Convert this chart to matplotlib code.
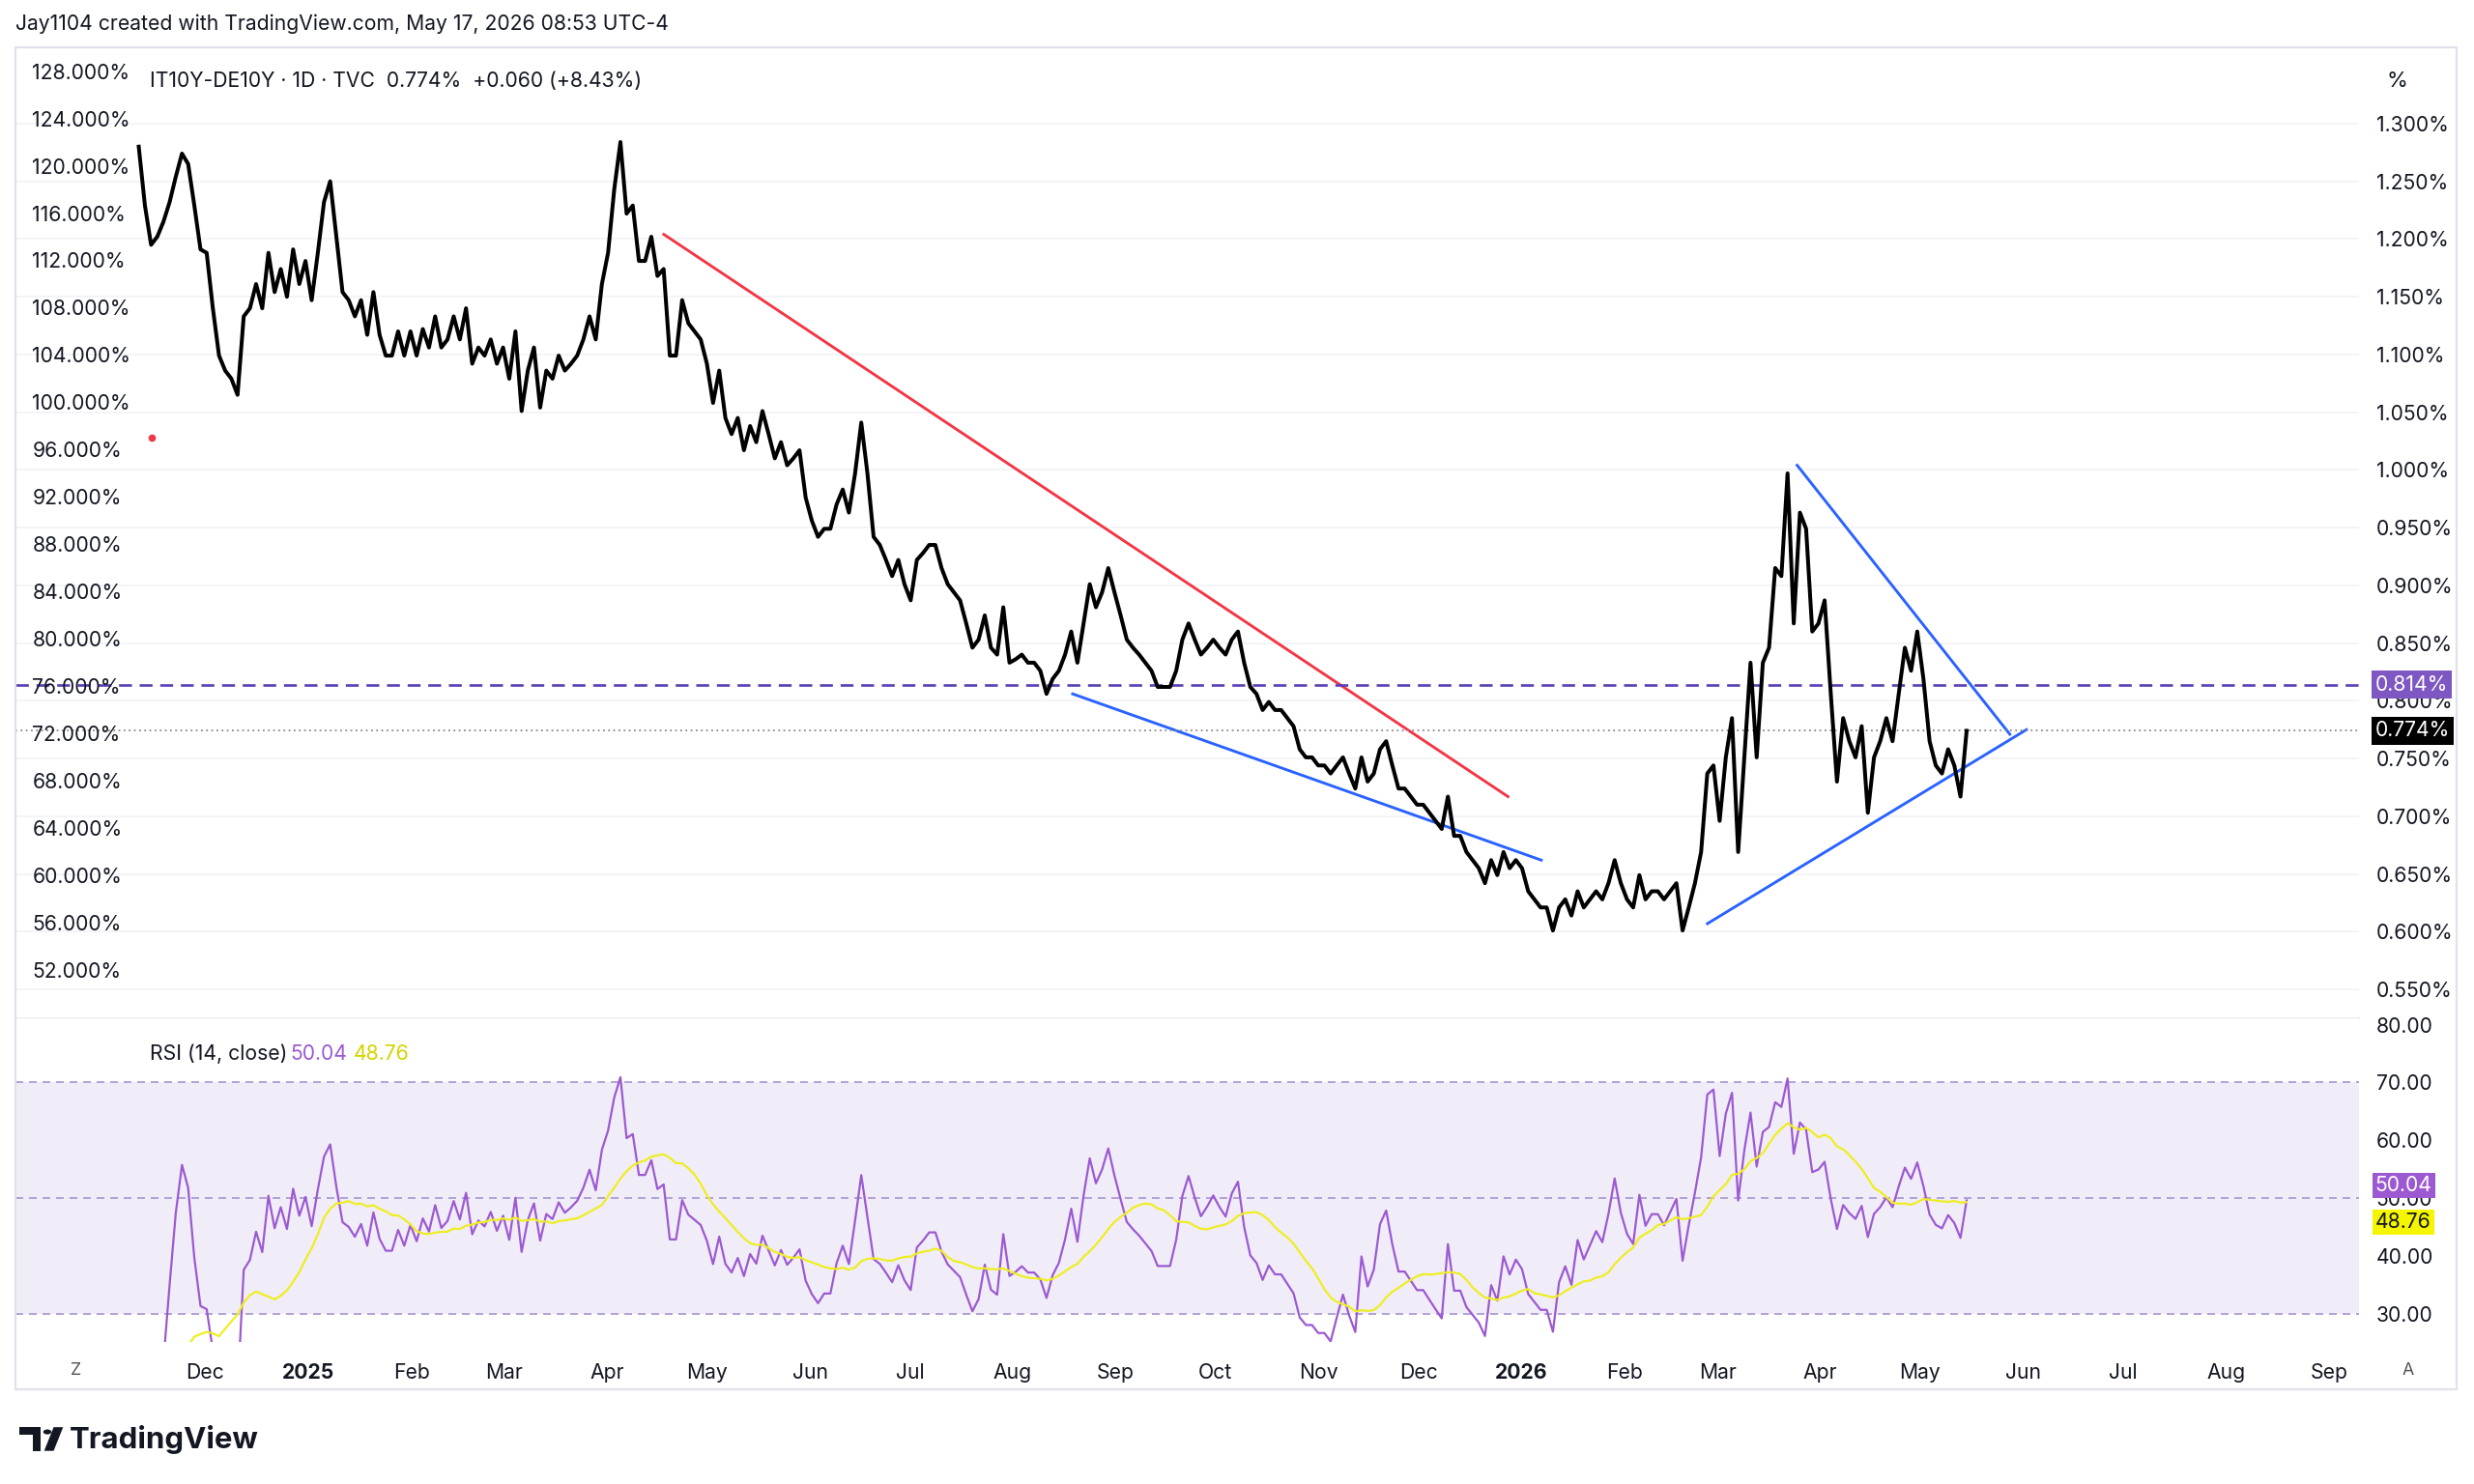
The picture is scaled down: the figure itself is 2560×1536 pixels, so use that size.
import numpy as np, pandas as pd
import matplotlib
matplotlib.use("Agg")
import matplotlib.pyplot as plt
from matplotlib.patches import Rectangle, Circle, Polygon

plt.rcParams['font.family'] = ['Inter', 'DejaVu Sans']

start_date = "2024-11-11"
end_date = "2026-05-15"
spread = [1.280,1.229,1.195,1.202,1.215,1.232,1.254,1.274,1.265,1.229,1.191,1.188,1.140,1.099,1.086,1.079,1.065,1.133,1.140,1.161,
1.140,1.188,1.154,1.174,1.150,1.191,1.161,1.181,1.147,1.188,1.232,1.250,1.202,1.154,1.147,1.133,1.147,1.117,1.154,1.117,
1.099,1.099,1.120,1.099,1.120,1.099,1.122,1.106,1.133,1.106,1.113,1.133,1.113,1.140,1.092,1.106,1.099,1.113,1.092,1.106,
1.079,1.120,1.051,1.086,1.106,1.054,1.086,1.079,1.099,1.086,1.092,1.099,1.113,1.133,1.113,1.161,1.188,1.243,1.284,1.222,
1.229,1.181,1.181,1.202,1.168,1.174,1.099,1.099,1.147,1.127,1.120,1.113,1.092,1.058,1.086,1.045,1.031,1.045,1.017,1.038,
1.024,1.051,1.031,1.010,1.024,1.004,1.010,1.017,0.976,0.956,0.942,0.949,0.949,0.970,0.983,0.963,0.997,1.041,0.997,0.942,
0.935,0.922,0.908,0.922,0.901,0.887,0.922,0.928,0.935,0.935,0.915,0.901,0.894,0.887,0.867,0.846,0.853,0.874,0.846,0.840,
0.881,0.833,0.836,0.840,0.833,0.833,0.826,0.806,0.819,0.826,0.840,0.860,0.833,0.867,0.901,0.881,0.894,0.915,0.894,0.874,
0.853,0.846,0.840,0.833,0.826,0.812,0.812,0.812,0.826,0.853,0.867,0.853,0.840,0.846,0.853,0.846,0.840,0.853,0.860,0.833,
0.812,0.806,0.792,0.799,0.792,0.792,0.785,0.778,0.758,0.751,0.751,0.744,0.744,0.737,0.744,0.751,0.737,0.724,0.751,0.730,
0.737,0.758,0.765,0.744,0.724,0.724,0.717,0.710,0.710,0.703,0.696,0.689,0.717,0.683,0.683,0.669,0.662,0.655,0.642,0.662,
0.649,0.669,0.655,0.662,0.655,0.635,0.628,0.621,0.621,0.601,0.621,0.628,0.614,0.635,0.621,0.628,0.635,0.628,0.642,0.662,
0.642,0.628,0.621,0.649,0.628,0.635,0.635,0.628,0.635,0.642,0.601,0.621,0.642,0.669,0.737,0.744,0.696,0.751,0.785,0.669,
0.751,0.833,0.751,0.833,0.846,0.915,0.908,0.997,0.867,0.963,0.949,0.860,0.867,0.887,0.806,0.730,0.785,0.765,0.751,0.778,
0.703,0.751,0.765,0.785,0.765,0.806,0.846,0.826,0.860,0.819,0.765,0.744,0.737,0.758,0.744,0.717,0.774]

red_line = (("2025-04-18", 1.204), ("2025-12-28", 0.717))
blue_lines = [(("2025-08-19", 0.806), ("2026-01-07", 0.662)),
              (("2026-03-25", 1.004), ("2026-05-28", 0.771)),
              (("2026-02-26", 0.607), ("2026-06-02", 0.775))]
level_dashed = 0.814
last_value = 0.774
right_ticks = [0.55,0.60,0.65,0.70,0.75,0.80,0.85,0.90,0.95,1.00,1.05,1.10,1.15,1.20,1.25,1.30]
left_ticks = list(range(52, 129, 4))
month_ticks = ["2024-12-01","2025-01-01","2025-02-01","2025-03-01","2025-04-01","2025-05-01","2025-06-01","2025-07-01",
               "2025-08-01","2025-09-01","2025-10-01","2025-11-01","2025-12-01","2026-01-01","2026-02-01","2026-03-01",
               "2026-04-01","2026-05-01","2026-06-01","2026-07-01","2026-08-01","2026-09-01"]
month_labels = ["Dec","2025","Feb","Mar","Apr","May","Jun","Jul","Aug","Sep","Oct","Nov","Dec","2026","Feb","Mar",
                "Apr","May","Jun","Jul","Aug","Sep"]
rsi_last, rsi_ma_last = "50.04", "48.76"

dates = pd.date_range(start_date, end_date, periods=len(spread))
s = pd.Series(spread, index=dates)
d = s.diff().fillna(0)
up = d.clip(lower=0).ewm(alpha=1/14, adjust=True).mean()
dn = (-d.clip(upper=0)).ewm(alpha=1/14, adjust=True).mean()
rsi = (100 - 100/(1+up/dn.replace(0, np.nan))).bfill()
rsi_ma = rsi.rolling(14, min_periods=1).mean()

W, H = 1568, 940
fig = plt.figure(figsize=(16, 9.6), dpi=160)
def fr(x0, y0, x1, y1):
    return [x0/W, 1-y1/H, (x1-x0)/W, (y1-y0)/H]

ax = fig.add_axes(fr(10, 30, 1495, 645))
ax2 = fig.add_axes(fr(10, 645, 1495, 850), sharex=ax)
xmin, xmax = pd.Timestamp("2024-10-05"), pd.Timestamp("2026-09-10")
grid_c = '#f2f3f7'

ax.set_xlim(xmin, xmax); ax.set_ylim(0.525, 1.366)
for t in right_ticks:
    ax.axhline(t, color=grid_c, lw=0.8, zorder=0)
ax.plot(s.index, s.values, color='black', lw=1.8, zorder=3)
(a, b) = red_line
ax.plot([pd.Timestamp(a[0]), pd.Timestamp(b[0])], [a[1], b[1]], color='#f23645', lw=1.3)
for (a, b) in blue_lines:
    ax.plot([pd.Timestamp(a[0]), pd.Timestamp(b[0])], [a[1], b[1]], color='#2962ff', lw=1.3)
ax.axhline(level_dashed, color='#5b3fb5', lw=1.2, ls=(0, (5, 3)))
ax.axhline(last_value, color='#888888', lw=0.8, ls=(0, (1, 2)))
ax.scatter([pd.Timestamp("2024-11-15")], [1.028], color='#f23645', s=6, zorder=4)

ax.yaxis.tick_right()
ax.set_yticks(right_ticks)
ax.set_yticklabels([f"{t:.3f}%" for t in right_ticks], fontsize=9.5, color='#131722')
ax.tick_params(axis='y', length=0, pad=8)
ax.tick_params(axis='x', length=0, labelbottom=False)
tr = matplotlib.transforms.blended_transform_factory(ax.transAxes, ax.transData)
for L in left_ticks:
    R = (L + 3.15) / 97.6
    if 0.525 < R < 1.366:
        ax.text(0.007, R, f"{L:.3f}%", transform=tr, fontsize=9.5, va='center', ha='left', color='#131722')
for v, txt, fc in [(level_dashed, "0.814%", '#7e57c2'), (last_value, "0.774%", 'black')]:
    ax.text(1.007, v, txt, transform=tr, fontsize=9.5, va='center', ha='left', color='white',
            bbox=dict(boxstyle='square,pad=0.2', fc=fc, ec='none'), clip_on=False)
ax.text(0.057, 0.975, "IT10Y-DE10Y · 1D · TVC  0.774%  +0.060 (+8.43%)", transform=ax.transAxes,
        fontsize=9.5, va='top', color='#131722')
ax.text(1.012, 0.975, "%", transform=ax.transAxes, fontsize=10, va='top', color='#131722')

ax2.set_ylim(25.1, 81.1)
ax2.add_patch(Rectangle((0, 30), 1, 40, transform=matplotlib.transforms.blended_transform_factory(ax2.transAxes, ax2.transData),
                        fc='#7e57c2', alpha=0.1, ec='none'))
ax2.axvspan(xmin, s.index[0], color='white', zorder=0.5)
for v in (70, 50, 30):
    ax2.axhline(v, color='#b2a4d6', lw=0.9, ls=(0, (4, 3)))
ax2.plot(rsi.index, rsi.values, color='#9c59d1', lw=1.0, zorder=3)
ax2.plot(rsi_ma.index, rsi_ma.values, color='#eeee22', lw=1.0, zorder=3)
ax2.yaxis.tick_right()
ax2.set_yticks([30, 40, 50, 60, 70, 80])
ax2.set_yticklabels(["30.00", "40.00", "50.00", "60.00", "70.00", "80.00"], fontsize=9.5, color='#131722')
ax2.tick_params(axis='y', length=0, pad=8)
tr2 = matplotlib.transforms.blended_transform_factory(ax2.transAxes, ax2.transData)
ax2.text(1.007, 52.2, rsi_last, transform=tr2, fontsize=9.5, va='center', ha='left', color='white',
         bbox=dict(boxstyle='square,pad=0.15', fc='#9c59d1', ec='none'), clip_on=False)
ax2.text(1.007, 45.8, rsi_ma_last, transform=tr2, fontsize=9.5, va='center', ha='left', color='#131722',
         bbox=dict(boxstyle='square,pad=0.15', fc='#f5f500', ec='none'), clip_on=False)
ax2.text(0.057, 0.92, "RSI (14, close)", transform=ax2.transAxes, fontsize=9.5, va='top', color='#131722')
ax2.text(0.117, 0.92, rsi_last, transform=ax2.transAxes, fontsize=9.5, va='top', color='#9c59d1')
ax2.text(0.144, 0.92, rsi_ma_last, transform=ax2.transAxes, fontsize=9.5, va='top', color='#d4d400')

ax2.set_xticks([pd.Timestamp(m) for m in month_ticks])
ax2.set_xticklabels(month_labels, fontsize=9.5, color='#131722')
for lbl in ax2.get_xticklabels():
    if lbl.get_text() in ("2025", "2026"):
        lbl.set_fontweight('bold')
ax2.tick_params(axis='x', length=0, pad=10)

for a_ in (ax, ax2):
    for sp in a_.spines.values():
        sp.set_visible(False)
ax.spines['bottom'].set_visible(True); ax.spines['bottom'].set_color('#e0e3eb')
fig.add_artist(Rectangle((10/W, 1-880/H), 1547/W, 850/H, transform=fig.transFigure, fill=False, ec='#e0e3eb', lw=1))
fig.text(10/W, 1-15/H, "Jay1104 created with TradingView.com, May 17, 2026 08:53 UTC-4", fontsize=9.5, va='center', color='#131722')
fig.text(48/W, 1-868/H, "Z", fontsize=8, ha='center', va='center', color='#555')
fig.text(1526/W, 1-868/H, "A", fontsize=8, ha='center', va='center', color='#555')
# logo
def P(x, y): return (x/W, 1-y/H)
fig.add_artist(Polygon([P(12,904),P(26,904),P(26,919),P(21,919),P(21,909),P(12,909)], closed=True,
                       transform=fig.transFigure, fc='#131722', ec='none'))
fig.add_artist(Circle(P(30,907), 2.6/W, transform=fig.transFigure, fc='#131722', ec='none'))
fig.add_artist(Polygon([P(34,904),P(40,904),P(34,919),P(28,919)], closed=True,
                       transform=fig.transFigure, fc='#131722', ec='none'))
fig.text(44/W, 1-912/H, "TradingView", fontsize=14, fontweight='bold', va='center', color='#131722')
fig.savefig("out.png", dpi=160, facecolor='white')
